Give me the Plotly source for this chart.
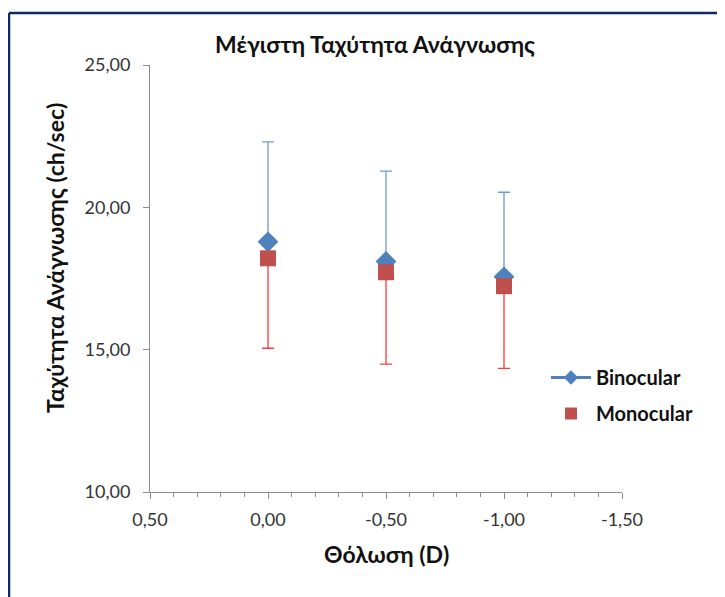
import plotly.graph_objects as go

x_vals = [0.0, -0.5, -1.0]
binocular = [18.79, 18.10, 17.56]
binocular_err_plus = [3.51, 3.17, 2.97]
monocular = [18.21, 17.72, 17.23]
monocular_err_minus = [3.16, 3.23, 2.89]

x_ticks = [0.5, 0.0, -0.5, -1.0, -1.5]
x_tick_labels = ["0,50", "0,00", "-0,50", "-1,00", "-1,50"]
y_ticks = [10, 15, 20, 25]
y_tick_labels = ["10,00", "15,00", "20,00", "25,00"]

FONT = "Lato, 'Open Sans', sans-serif"
BLUE = "#4F81BD"
RED = "#C0504D"

fig = go.Figure()
fig.add_trace(go.Scatter(
    x=x_vals, y=binocular, mode="markers", name="Binocular", showlegend=False,
    marker=dict(symbol="diamond", size=16, color=BLUE),
    error_y=dict(type="data", symmetric=False, array=binocular_err_plus,
                 arrayminus=[0] * len(binocular), color="#6E9AD1", thickness=1.3, width=6),
))
fig.add_trace(go.Scatter(
    x=x_vals, y=monocular, mode="markers", name="Monocular", showlegend=False,
    marker=dict(symbol="square", size=16, color=RED),
    error_y=dict(type="data", symmetric=False, array=[0] * len(monocular),
                 arrayminus=monocular_err_minus, color="#FF3B3B", thickness=1.3, width=6),
))
# legend entries
fig.add_trace(go.Scatter(x=[None], y=[None], mode="lines+markers", name="<b>Binocular</b>",
                         legendgroup="b",
                         line=dict(color=BLUE, width=3),
                         marker=dict(symbol="diamond", size=11, color=BLUE)))
fig.add_trace(go.Scatter(x=[None], y=[None], mode="markers", name="<b>Monocular</b>",
                         legendgroup="m",
                         marker=dict(symbol="square", size=12, color=RED)))

# page body has an 8px margin; figure coords = screen coords - 8
OFF = 8
W, H = 725 - OFF, 597 - OFF
L, T = 150 - OFF, 65 - OFF
R = W - (622 - OFF)
B = H - (492 - OFF)
pw, ph = W - L - R, H - T - B

def px(x):
    return (x - OFF - L) / pw

def py(y):
    return (H - B - (y - OFF)) / ph

fig.update_layout(
    width=W, height=H,
    margin=dict(l=L, r=R, t=T, b=B),
    paper_bgcolor="white", plot_bgcolor="white",
    font=dict(family=FONT, color="#222"),
    title=dict(text="<b>Μέγιστη Ταχύτητα Ανάγνωσης</b>", x=px(375), xref="paper",
               xanchor="center", y=1 - (45 - OFF) / H, yref="container", yanchor="middle",
               font=dict(size=23, family=FONT, color="#111")),
    xaxis=dict(range=[0.5, -1.5], tickvals=x_ticks, ticktext=x_tick_labels,
               showgrid=False, zeroline=False, showline=True, linecolor="#8c8c8c",
               linewidth=1, ticks="outside", ticklen=6, tickcolor="#8c8c8c",
               tickfont=dict(size=18, color="#333"), ticklabelstandoff=5,
               minor=dict(dtick=0.1, ticks="outside", ticklen=4, tickcolor="#8c8c8c")),
    yaxis=dict(range=[10, 25], tickvals=y_ticks, ticktext=y_tick_labels,
               showgrid=False, zeroline=False, showline=True, linecolor="#8c8c8c",
               linewidth=1, ticks="outside", ticklen=6, tickcolor="#8c8c8c",
               tickfont=dict(size=18, color="#333"), ticklabelstandoff=9),
    legend=dict(x=px(546), y=py(358), xanchor="left", yanchor="top",
                font=dict(size=20, color="#111", family=FONT), bgcolor="rgba(0,0,0,0)",
                tracegroupgap=7, itemwidth=40),
    annotations=[
        dict(text="<b>Ταχύτητα Ανάγνωσης (ch/sec)</b>", xref="paper", yref="paper",
             x=px(55), y=py(258), textangle=-90, showarrow=False,
             xanchor="center", yanchor="middle", font=dict(size=23, color="#111")),
        dict(text="<b>Θόλωση (D)</b>", xref="paper", yref="paper",
             x=px(386), y=py(554), showarrow=False,
             xanchor="center", yanchor="middle", font=dict(size=23, color="#111")),
    ],
    shapes=[
        dict(type="line", xref="paper", yref="paper", x0=px(9), x1=px(760), y0=py(13), y1=py(13),
             line=dict(color="#0F2A66", width=2.5)),
        dict(type="line", xref="paper", yref="paper", x0=px(9), x1=px(9), y0=py(13), y1=py(640),
             line=dict(color="#0F2A66", width=2.5)),
    ],
)

fig.write_html("out.html")
